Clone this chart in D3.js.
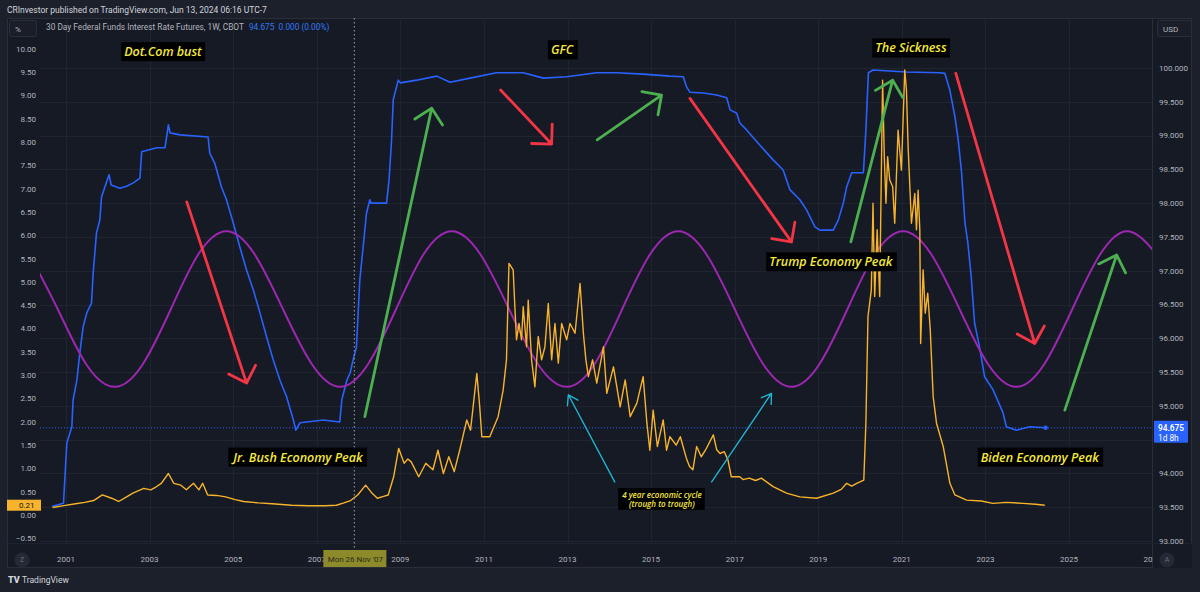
<!DOCTYPE html>
<html><head><meta charset="utf-8">
<script src="https://cdn.jsdelivr.net/npm/d3@7"></script>
<style>html,body{margin:0;padding:0;background:#1c202b;}svg{display:block;}</style>
</head><body>
<svg id="c" width="1200" height="592"></svg>
<script>
// ---------------- DATA ----------------
const blueYears=[2000.66,2000.94,2001.02,2001.14,2001.17,2001.26,2001.33,2001.41,2001.5,2001.61,2001.65,2001.73,2001.81,2001.85,2001.93,2002.03,2002.08,2002.29,2002.45,2002.61,2002.77,2002.81,2003.17,2003.37,2003.45,2003.49,2003.73,2004.4,2004.44,2004.56,2004.72,2004.84,2005.0,2005.16,2005.32,2005.48,2005.64,2005.8,2005.96,2006.12,2006.28,2006.44,2006.5,2006.6,2007.16,2007.55,2007.6,2007.72,2007.8,2007.87,2007.95,2008.03,2008.11,2008.19,2008.27,2008.3,2008.67,2008.73,2008.79,2008.83,2008.95,2009.0,2009.39,2009.87,2010.19,2010.67,2011.3,2011.94,2012.42,2012.98,2013.7,2014.17,2014.81,2015.45,2015.77,2015.85,2015.93,2016.25,2016.57,2016.81,2016.89,2017.05,2017.12,2017.29,2017.6,2017.92,2018.16,2018.32,2018.56,2018.72,2018.92,2019.04,2019.36,2019.48,2019.6,2019.68,2019.8,2020.08,2020.14,2020.2,2020.31,2021.11,2021.91,2022.03,2022.15,2022.27,2022.35,2022.43,2022.51,2022.58,2022.66,2022.74,2022.86,2022.98,2023.18,2023.42,2023.5,2023.74,2024.06,2024.44];
const bluePrices=[93.51,93.56,94.45,94.69,95.09,95.38,95.78,96.17,96.38,96.52,96.97,97.56,97.75,98.09,98.24,98.42,98.27,98.22,98.25,98.3,98.37,98.76,98.82,98.82,99.16,99.04,99.01,98.98,98.74,98.59,98.24,98.05,97.71,97.35,97.01,96.72,96.38,96.02,95.68,95.38,95.13,94.79,94.64,94.75,94.79,94.76,95.09,95.38,95.49,95.68,95.87,96.86,97.35,97.85,98.05,98.0,98.0,98.34,98.93,99.53,99.82,99.78,99.82,99.88,99.79,99.85,99.93,99.93,99.85,99.87,99.93,99.93,99.91,99.88,99.87,99.72,99.64,99.63,99.6,99.56,99.38,99.33,99.19,99.08,98.86,98.64,98.49,98.2,98.05,97.9,97.65,97.6,97.6,97.75,98.0,98.24,98.45,98.45,99.08,99.93,99.97,99.94,99.93,99.92,99.67,99.28,98.93,98.45,97.71,97.41,96.91,96.23,95.87,95.43,95.24,94.9,94.69,94.64,94.69,94.675];

const yellowYears=[2000.68,2000.95,2001.23,2001.45,2001.66,2001.87,2002.09,2002.26,2002.43,2002.6,2002.86,2003.03,2003.15,2003.28,2003.45,2003.58,2003.75,2003.88,2004.05,2004.18,2004.27,2004.39,2004.6,2004.82,2005.05,2005.25,2005.6,2005.93,2006.4,2006.79,2007.2,2007.47,2007.65,2007.81,2007.98,2008.17,2008.32,2008.45,2008.6,2008.71,2008.84,2008.96,2009.09,2009.18,2009.26,2009.44,2009.61,2009.78,2009.9,2010.03,2010.16,2010.29,2010.42,2010.59,2010.68,2010.76,2010.83,2010.9,2010.95,2011.14,2011.34,2011.46,2011.54,2011.6,2011.7,2011.74,2011.78,2011.84,2011.9,2011.94,2012.02,2012.06,2012.14,2012.22,2012.3,2012.38,2012.46,2012.54,2012.62,2012.7,2012.78,2012.86,2012.98,2013.06,2013.18,2013.3,2013.38,2013.44,2013.5,2013.6,2013.7,2013.86,2013.94,2014.1,2014.26,2014.38,2014.5,2014.66,2014.81,2014.9,2014.97,2015.05,2015.15,2015.29,2015.37,2015.45,2015.6,2015.7,2015.85,2015.92,2016.0,2016.09,2016.2,2016.3,2016.49,2016.57,2016.65,2016.75,2016.84,2016.92,2017.12,2017.2,2017.35,2017.5,2017.64,2017.92,2018.24,2018.56,2018.96,2019.36,2019.55,2019.68,2019.8,2019.92,2020.09,2020.14,2020.19,2020.27,2020.31,2020.35,2020.41,2020.47,2020.54,2020.58,2020.62,2020.66,2020.71,2020.78,2020.83,2020.91,2020.99,2021.07,2021.11,2021.15,2021.23,2021.31,2021.35,2021.39,2021.43,2021.45,2021.51,2021.56,2021.62,2021.68,2021.75,2021.83,2021.99,2022.15,2022.27,2022.55,2022.9,2023.18,2023.5,2023.9,2024.2,2024.42];
const yellowValues=[0.16,0.2,0.24,0.27,0.31,0.43,0.36,0.29,0.38,0.47,0.57,0.54,0.6,0.68,0.89,0.68,0.64,0.54,0.68,0.54,0.68,0.43,0.42,0.39,0.33,0.29,0.26,0.24,0.21,0.2,0.2,0.21,0.26,0.31,0.43,0.64,0.47,0.36,0.4,0.43,0.82,1.43,1.11,1.2,1.14,0.82,1.11,0.97,1.39,0.89,1.25,0.93,1.39,2.04,1.82,2.47,3.04,2.32,1.68,1.68,2.11,2.68,3.33,5.4,5.26,4.47,3.76,4.11,3.76,4.47,3.61,4.61,3.33,2.75,3.83,3.33,3.61,4.54,3.33,4.11,3.26,4.11,3.76,4.11,3.9,4.97,3.9,3.33,2.97,3.33,2.83,3.61,2.61,3.18,2.32,2.9,2.11,2.4,2.97,1.97,1.39,2.25,1.47,2.04,1.39,1.68,1.5,1.68,1.2,1.04,0.97,1.47,1.25,1.39,1.72,1.4,1.32,1.36,1.18,0.82,0.82,0.76,0.79,0.74,0.79,0.61,0.47,0.39,0.36,0.47,0.55,0.68,0.62,0.68,0.75,1.97,4.26,4.83,6.69,4.69,6.12,4.69,9.33,7.69,6.69,7.69,7.19,7.05,6.26,8.26,7.4,9.55,9.12,7.9,6.26,6.9,6.12,6.97,6.12,3.68,5.26,4.33,4.76,3.97,2.54,1.97,1.47,0.68,0.43,0.32,0.3,0.25,0.27,0.25,0.23,0.21];

const cycleYears=[2000.12,2000.80,2001.48,2002.17,2002.84,2003.51,2004.17,2004.84,2005.51,2006.19,2006.88,2007.56,2008.23,2008.90,2009.56,2010.23,2010.91,2011.60,2012.29,2012.98,2013.65,2014.31,2014.98,2015.65,2016.32,2017.00,2017.68,2018.36,2019.03,2019.70,2020.36,2021.03,2021.70,2022.38,2023.06,2023.74,2024.41,2025.08,2025.75,2026.42,2027.09];
const cycleValues=[5.60,4.42,3.24,2.75,3.24,4.42,5.60,6.09,5.60,4.42,3.24,2.75,3.24,4.42,5.60,6.09,5.60,4.42,3.24,2.75,3.24,4.42,5.60,6.09,5.60,4.42,3.24,2.75,3.24,4.42,5.60,6.09,5.60,4.42,3.24,2.75,3.24,4.42,5.60,6.09,5.60];

const xTickYears=[2001,2003,2005,2007,2009,2011,2013,2015,2017,2019,2021,2023,2025,2027];
const leftTickValues=[-0.5,0,0.5,1,1.5,2,2.5,3,3.5,4,4.5,5,5.5,6,6.5,7,7.5,8,8.5,9,9.5,10];
const rightTickValues=[93,93.5,94,94.5,95,95.5,96,96.5,97,97.5,98,98.5,99,99.5,100];

// annotations in data units (year, left-axis %)
const arrowKinds=["red","red","red","red","green","green","green","green","cyan","cyan"];
const arrowStart=[[2003.89,6.72],[2011.40,9.12],[2015.93,8.94],[2022.29,9.48],[2008.15,2.11],[2013.71,8.05],[2019.78,5.86],[2024.90,2.25],[2014.13,0.71],[2016.45,0.71]];
const arrowEnd=[[2005.32,2.83],[2012.62,7.96],[2018.36,5.86],[2024.18,3.68],[2009.75,8.73],[2015.25,9.01],[2020.78,9.33],[2026.14,5.58],[2013.02,2.58],[2017.88,2.61]];
const labelTexts=["Dot.Com bust","GFC","The Sickness","Trump Economy Peak","Biden Economy Peak","Jr. Bush Economy Peak"];
const labelPos=[[2003.32,9.94],[2012.87,9.98],[2021.22,10.02],[2019.30,5.43],[2024.30,1.24],[2006.55,1.24]];
const cycleNoteLines=["4 year economic cycle","(trough to trough)"];
const cycleNotePos=[2015.26,0.33];

const headerText="CRInvestor published on TradingView.com, Jun 13, 2024 06:16 UTC-7";
const legendTitle="30 Day Federal Funds Interest Rate Futures, 1W, CBOT";
const legendValues="94.675  0.000 (0.00%)";
const lastPrice=94.675, lastYellow=0.21;
const crossYear=2007.90, crossLabel="Mon 26 Nov '07";

// ---------------- DRAW ----------------
const svg=d3.select("#c");
const plot={l:40,r:1152,t:18,b:543};
const x=d3.scaleLinear().domain([2001,2025]).range([66,1069]);
const yL=d3.scaleLinear().domain([0,10]).range([515,49]);
const yR=d3.scaleLinear().domain([93,100]).range([541,68]);
const AX="Roboto, 'Liberation Sans', sans-serif";
const COL={bg:"#161a25",outer:"#1c202b",border:"#2a2e39",grid:"#20242f",txt:"#b2b5be",
 blue:"#2962ff",yellow:"#f7b32b",purple:"#9c27b0",red:"#f23645",green:"#4caf50",cyan:"#1fb3cf",note:"#f5e93c"};

svg.append("rect").attr("width",1200).attr("height",592).attr("fill",COL.outer);
svg.append("rect").attr("x",7.5).attr("y",18.5).attr("width",1184).attr("height",549)
  .attr("fill",COL.bg).attr("stroke",COL.border);

// grid
const grid=svg.append("g");
grid.selectAll(".gv").data(xTickYears.filter(d=>x(d)<plot.r)).join("line")
  .attr("x1",d=>Math.round(x(d))+0.5).attr("x2",d=>Math.round(x(d))+0.5)
  .attr("y1",plot.t).attr("y2",plot.b).attr("stroke",COL.grid);
grid.selectAll(".gh").data(rightTickValues).join("line")
  .attr("x1",plot.l).attr("x2",plot.r)
  .attr("y1",d=>Math.round(yR(d))+0.5).attr("y2",d=>Math.round(yR(d))+0.5).attr("stroke",COL.grid);

// separators
svg.append("line").attr("x1",plot.r+0.5).attr("x2",plot.r+0.5).attr("y1",18).attr("y2",568).attr("stroke",COL.border);
svg.append("line").attr("x1",7).attr("x2",1192).attr("y1",plot.b+0.5).attr("y2",plot.b+0.5).attr("stroke","#1d2130");

// header texts
svg.append("text").attr("x",7).attr("y",13).attr("font-family",AX).attr("font-size",8.5)
  .attr("fill","#d1d4dc").text(headerText);
svg.append("rect").attr("x",9.5).attr("y",20.5).attr("width",27).attr("height",16).attr("rx",2)
  .attr("fill","#1a1e29").attr("stroke",COL.border);
svg.append("text").attr("x",15).attr("y",32).attr("font-family",AX).attr("font-size",8).attr("fill",COL.txt).text("%");
const lg=svg.append("text").attr("x",46).attr("y",30).attr("font-family",AX).attr("font-size",8.3).attr("fill",COL.txt);
lg.append("tspan").text(legendTitle);
lg.append("tspan").attr("dx",5).attr("fill","#3179f5").attr("xml:space","preserve").text(legendValues);
svg.append("rect").attr("x",1157.5).attr("y",20.5).attr("width",34).attr("height",16).attr("rx",2)
  .attr("fill","#1a1e29").attr("stroke",COL.border);
svg.append("text").attr("x",1163).attr("y",32).attr("font-family",AX).attr("font-size",8).attr("fill",COL.txt).text("USD");

// clip
svg.append("clipPath").attr("id","pc").append("rect")
  .attr("x",plot.l).attr("y",plot.t).attr("width",plot.r-plot.l).attr("height",plot.b-plot.t);
const g=svg.append("g").attr("clip-path","url(#pc)");

// price line
g.append("line").attr("x1",plot.l).attr("x2",plot.r).attr("y1",yR(lastPrice)).attr("y2",yR(lastPrice))
  .attr("stroke",COL.blue).attr("stroke-dasharray","1,2").attr("stroke-width",1);
// crosshair
svg.append("line").attr("x1",x(crossYear)).attr("x2",x(crossYear)).attr("y1",18).attr("y2",550)
  .attr("stroke","#8a8d96").attr("stroke-dasharray","1.5,2.5").attr("stroke-width",1.2);

// blue line
const blueData=blueYears.map((d,i)=>[d,bluePrices[i]]);
g.append("path").datum(blueData).attr("fill","none").attr("stroke",COL.blue).attr("stroke-width",1.6)
  .attr("stroke-linejoin","round")
  .attr("d",d3.line().x(d=>x(d[0])).y(d=>yR(d[1])));
g.append("circle").attr("cx",x(blueYears[blueYears.length-1])).attr("cy",yR(lastPrice)).attr("r",2.2).attr("fill",COL.blue);

// purple cycle
const cycData=cycleYears.map((d,i)=>[d,cycleValues[i]]);
g.append("path").datum(cycData).attr("fill","none").attr("stroke",COL.purple).attr("stroke-width",2)
  .attr("d",d3.line().curve(d3.curveNatural).x(d=>x(d[0])).y(d=>yL(d[1])));

// labels (under yellow)
const labG=svg.append("g");
function noteLabel(lines,yr,v,fs,padX,padY){
  const gg=labG.append("g");
  const lh=fs*1.1;
  const cx=x(yr), cy=yL(v);
  const t=gg.append("text").attr("font-family","'Open Sans', sans-serif").attr("font-style","italic")
    .attr("font-weight",600).attr("font-size",fs).attr("fill",COL.note).attr("text-anchor","middle");
  lines.forEach((s,i)=>t.append("tspan").attr("x",cx).attr("y",cy+(i-(lines.length-1)/2)*lh).attr("dy","0.35em").text(s));
  const bb=t.node().getBBox();
  gg.insert("rect","text").attr("x",bb.x-padX).attr("y",bb.y-padY).attr("width",bb.width+2*padX)
    .attr("height",bb.height+2*padY).attr("fill","#000");
}
labelTexts.forEach((s,i)=>noteLabel([s],labelPos[i][0],labelPos[i][1],12.5,3,1));
noteLabel(cycleNoteLines,cycleNotePos[0],cycleNotePos[1],8,3,1);

// yellow line
const yelData=yellowYears.map((d,i)=>[d,yellowValues[i]]);
g.append("path").datum(yelData).attr("fill","none").attr("stroke",COL.yellow).attr("stroke-width",1.4)
  .attr("stroke-linejoin","round")
  .attr("d",d3.line().x(d=>x(d[0])).y(d=>yL(d[1])));

// arrows
const arG=svg.append("g").attr("fill","none").attr("stroke-linecap","round").attr("stroke-linejoin","round");
arrowKinds.forEach((k,i)=>{
  const x0=x(arrowStart[i][0]),y0=yL(arrowStart[i][1]),x1=x(arrowEnd[i][0]),y1=yL(arrowEnd[i][1]);
  const a=Math.atan2(y1-y0,x1-x0);
  const len=k==="cyan"?11:20, ang=k==="cyan"?Math.PI/5.5:Math.PI/4;
  const w1=[x1-len*Math.cos(a-ang),y1-len*Math.sin(a-ang)];
  const w2=[x1-len*Math.cos(a+ang),y1-len*Math.sin(a+ang)];
  arG.append("path").attr("stroke",COL[k]).attr("stroke-width",k==="cyan"?1.4:2.8)
    .attr("d",`M${x0},${y0}L${x1},${y1}M${w1[0]},${w1[1]}L${x1},${y1}L${w2[0]},${w2[1]}`);
});

// axes labels (ticks hidden behind last-value labels are skipped, as TradingView does)
const py=yR(lastPrice), yy=yL(lastYellow);
const lax=svg.append("g").attr("font-family",AX).attr("font-size",8).attr("fill",COL.txt);
lax.selectAll("text").data(leftTickValues.filter(d=>Math.abs(yL(d)-yy)>9)).join("text").attr("x",36).attr("y",d=>yL(d)).attr("dy","0.35em")
  .attr("text-anchor","end").text(d=>d3.format(".2f")(d));
const rax=svg.append("g").attr("font-family",AX).attr("font-size",8).attr("fill",COL.txt);
rax.selectAll("text").data(rightTickValues.filter(d=>yR(d)<py-12||yR(d)>py+20)).join("text").attr("x",1159).attr("y",d=>yR(d)).attr("dy","0.35em")
  .text(d=>d3.format(".3f")(d));
const xax=svg.append("g").attr("font-family",AX).attr("font-size",8).attr("fill",COL.txt);
xax.selectAll("text").data(xTickYears).join("text").attr("x",d=>x(d)).attr("y",559).attr("dy","0.35em")
  .attr("text-anchor","middle").text(d=>d);
// cover right part of time axis beyond plot
svg.append("rect").attr("x",plot.r+1).attr("y",plot.b+1).attr("width",39).attr("height",24).attr("fill",COL.bg);

// Z / A buttons
[[22,"Z"],[1167,"A"]].forEach(([cx,s])=>{
  svg.append("circle").attr("cx",cx).attr("cy",560).attr("r",7.5).attr("fill","#252936");
  svg.append("text").attr("x",cx).attr("y",560).attr("dy","0.35em").attr("text-anchor","middle")
    .attr("font-family",AX).attr("font-size",7).attr("fill","#6a6d78").text(s);
});

// last value labels
svg.append("rect").attr("x",7).attr("y",yy-5.5).attr("width",34).attr("height",11).attr("fill",COL.yellow);
svg.append("text").attr("x",19).attr("y",yy).attr("dy","0.35em").attr("font-family",AX)
  .attr("font-size",8).attr("fill","#131722").text(d3.format(".2f")(lastYellow));
svg.append("rect").attr("x",1154).attr("y",py-7).attr("width",34).attr("height",22).attr("rx",1).attr("fill",COL.blue);
svg.append("text").attr("x",1158).attr("y",py).attr("dy","0.35em").attr("font-family",AX).attr("font-size",8.3)
  .attr("font-weight",600).attr("fill","#fff").text(d3.format(".3f")(lastPrice));
svg.append("text").attr("x",1158).attr("y",py+10).attr("dy","0.35em").attr("font-family",AX).attr("font-size",8.3)
  .attr("fill","#fff").text("1d 8h");

// crosshair time label
const cx0=x(crossYear);
svg.append("rect").attr("x",cx0-31).attr("y",550).attr("width",63).attr("height",17).attr("fill","#8d8a2b");
svg.append("text").attr("x",cx0+1).attr("y",559).attr("dy","0.35em").attr("text-anchor","middle")
  .attr("font-family",AX).attr("font-size",8).attr("fill","#2a2a1a").text(crossLabel);

// footer logo
svg.append("text").attr("x",8).attr("y",583).attr("font-family",AX).attr("font-size",9).attr("font-weight",900)
  .attr("fill","#d1d4dc").text("TV");
svg.append("text").attr("x",22).attr("y",583).attr("font-family",AX).attr("font-size",8.5)
  .attr("fill","#d1d4dc").text("TradingView");
</script>
</body></html>
